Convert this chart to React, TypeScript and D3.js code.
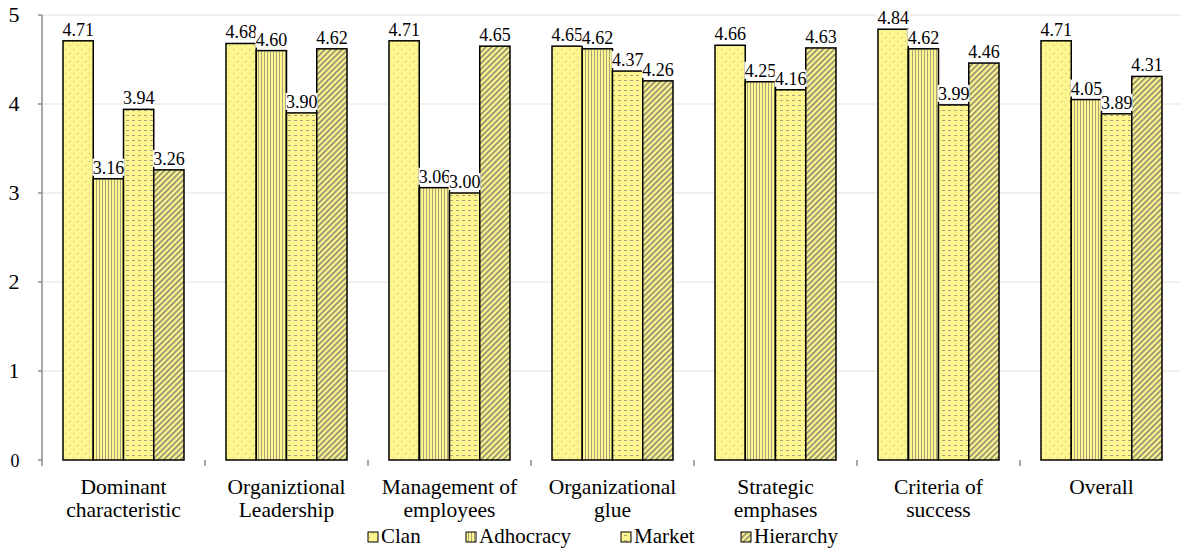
import React from "react";
import * as d3 from "d3";

const categories: string[][] = [
  ["Dominant", "characteristic"],
  ["Organiztional", "Leadership"],
  ["Management of", "employees"],
  ["Organizational", "glue"],
  ["Strategic", "emphases"],
  ["Criteria of", "success"],
  ["Overall"],
];
const seriesNames = ["Clan", "Adhocracy", "Market", "Hierarchy"];
const clan = [4.71, 4.68, 4.71, 4.65, 4.66, 4.84, 4.71];
const adhocracy = [3.16, 4.6, 3.06, 4.62, 4.25, 4.62, 4.05];
const market = [3.94, 3.9, 3.0, 4.37, 4.16, 3.99, 3.89];
const hierarchy = [3.26, 4.62, 4.65, 4.26, 4.63, 4.46, 4.31];
const series = [clan, adhocracy, market, hierarchy];
const yTicks = [0, 1, 2, 3, 4, 5];

const W = 1181, H = 549;
const left = 42, right = 1183, top = 15, bottom = 460;
const FILL = "#FDF68F";
const FONT = '"Liberation Serif", "Times New Roman", serif';

export default function App() {
  const x0 = d3.scaleBand<number>().domain(d3.range(categories.length)).range([left, right]).paddingInner(0).paddingOuter(0);
  const x1 = d3.scaleBand<number>().domain(d3.range(4)).range([21, x0.bandwidth() - 21]);
  const y = d3.scaleLinear().domain([0, 5]).range([bottom, top]);
  const patIds = ["pClan", "pAdh", "pMkt", "pHier"];
  const legendX = [368, 466, 621, 741];

  return (
    <svg width={W} height={H} style={{ position: "absolute", left: 0, top: 0, background: "#fff" }}>
      <defs>
        <pattern id="pClan" width="8" height="8" patternUnits="userSpaceOnUse">
          <rect width="8" height="8" fill={FILL} />
          <rect x="1" y="1" width="1" height="1" fill="#B8B070" />
          <rect x="5" y="5" width="1" height="1" fill="#B8B070" />
        </pattern>
        <pattern id="pAdh" width="3" height="3" patternUnits="userSpaceOnUse">
          <rect width="3" height="3" fill={FILL} />
          <rect x="0" y="0" width="1" height="3" fill="#A8A280" />
        </pattern>
        <pattern id="pMkt" width="6" height="5" patternUnits="userSpaceOnUse">
          <rect width="6" height="5" fill={FILL} />
          <rect x="0" y="0" width="3" height="1" fill="#A8A280" />
        </pattern>
        <pattern id="pHier" width="4" height="4" patternUnits="userSpaceOnUse" patternTransform="rotate(45)">
          <rect width="4" height="4" fill={FILL} />
          <rect x="0" y="0" width="1.6" height="4" fill="#8A8670" />
        </pattern>
      </defs>

      {yTicks.filter((t) => t > 0).map((t) => (
        <line key={"g" + t} x1={left} x2={W} y1={y(t)} y2={y(t)} stroke="#E6E2D2" strokeWidth={1} />
      ))}
      <line x1={left} x2={left} y1={top} y2={bottom + 6} stroke="#8C8C8C" strokeWidth={1.5} />
      {yTicks.map((t) => (
        <g key={"t" + t}>
          <line x1={left - 4} x2={left} y1={y(t)} y2={y(t)} stroke="#8C8C8C" strokeWidth={1.5} />
          <text fontFamily={FONT} x={t === 0 ? 15 : 14} y={y(t) + 7} fontSize={t === 0 ? 18 : 22} textAnchor="middle" fill="#000">{t}</text>
        </g>
      ))}
      {d3.range(1, categories.length).map((i) => (
        <line key={"ct" + i} x1={x0(i)!} x2={x0(i)!} y1={bottom} y2={bottom + 6} stroke="#8C8C8C" strokeWidth={1.5} />
      ))}

      {categories.map((c, i) => (
        <g key={"c" + i}>
          {series.map((s, k) => (
            <rect key={k} x={x0(i)! + x1(k)!} y={y(s[i])} width={x1.bandwidth()} height={bottom - y(s[i])}
              fill={`url(#${patIds[k]})`} stroke="#000" strokeWidth={1.5} />
          ))}
        </g>
      ))}
      {categories.map((c, i) => (
        <g key={"l" + i}>
          {series.map((s, k) => {
            const cx = x0(i)! + x1(k)! + x1.bandwidth() / 2;
            const ty = y(s[i]) - 5;
            return (
              <g key={k}>
                <rect x={cx - 16} y={ty - 15} width={32} height={17} fill="#fff" />
                <text fontFamily={FONT} x={cx} y={ty} fontSize={18} textAnchor="middle" fill="#000">{s[i].toFixed(2)}</text>
              </g>
            );
          })}
        </g>
      ))}

      {categories.map((c, i) =>
        c.map((line, j) => (
          <text fontFamily={FONT} key={"cl" + i + "_" + j} x={x0(i)! + x0.bandwidth() / 2} y={494 + j * 23}
            fontSize={21.5} textAnchor="middle" fill="#000">{line}</text>
        ))
      )}

      {seriesNames.map((n, k) => (
        <g key={"lg" + k}>
          <rect x={legendX[k]} y={532} width={10} height={10} fill={`url(#${patIds[k]})`} stroke="#000" strokeWidth={1} />
          <text fontFamily={FONT} x={legendX[k] + 13} y={543} fontSize={21} fill="#000">{n}</text>
        </g>
      ))}
    </svg>
  );
}
